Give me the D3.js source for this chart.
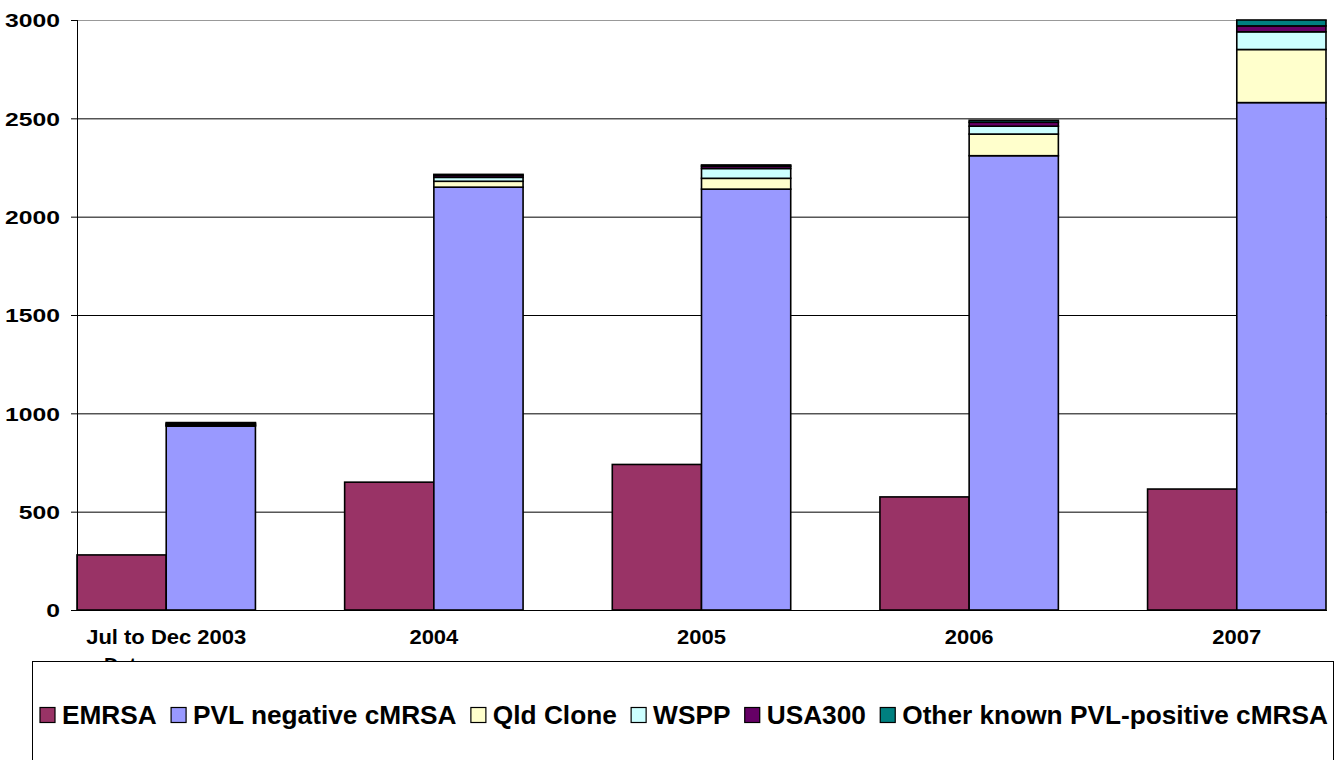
<!DOCTYPE html>
<html><head><meta charset="utf-8">
<script src="https://cdn.jsdelivr.net/npm/d3@7"></script>
<style>html,body{margin:0;padding:0;background:#fff;} svg{display:block;}</style>
</head><body>
<svg id="c" width="1337" height="760"></svg>
<script>
const categories = ["Jul to Dec 2003", "2004", "2005", "2006", "2007"];
const emrsa      = [280, 650, 740, 575, 615];
const pvlNeg     = [935, 2150, 2140, 2310, 2580];
const qldClone   = [4, 30, 55, 110, 270];
const wspp       = [4, 20, 50, 40, 90];
const usa300     = [6, 10, 12, 20, 30];
const otherPvl   = [4, 5, 6, 10, 30];
const yTicks     = [0, 500, 1000, 1500, 2000, 2500, 3000];
const seriesNames = ["EMRSA", "PVL negative cMRSA", "Qld Clone", "WSPP", "USA300", "Other known PVL-positive cMRSA"];
const seriesColors = ["#993366", "#9999FF", "#FFFFCC", "#CCFFFF", "#660066", "#008080"];

const svg = d3.select("#c");
const M = {left: 77, right: 1326, top: 20, bottom: 610};
const FONT = "'Liberation Sans', Arial, sans-serif";

const x = d3.scaleBand().domain(categories).range([M.left, M.right]).paddingInner(1/3).paddingOuter(0);
const sub = d3.scaleBand().domain([0, 1]).range([0, x.bandwidth()]);
const y = d3.scaleLinear().domain([0, 3000]).range([M.bottom, M.top]);

// gridlines
svg.append("g").selectAll("line").data(yTicks.filter(d => d > 0)).join("line")
  .attr("x1", M.left).attr("x2", M.right + 1)
  .attr("y1", d => y(d) + 0.5).attr("y2", d => y(d) + 0.5)
  .attr("stroke", d => d === 3000 ? "#999" : "#000").attr("stroke-width", 1);

// stacked data for second bar
const stackKeys = [1, 2, 3, 4, 5];
const stackArrays = [emrsa, pvlNeg, qldClone, wspp, usa300, otherPvl];
const rows = categories.map((c, i) => {
  const r = {cat: c};
  stackKeys.forEach(k => r[k] = stackArrays[k][i]);
  return r;
});
const stacked = d3.stack().keys(stackKeys)(rows);

const barG = svg.append("g");
barG.selectAll("rect.em").data(categories).join("rect")
  .attr("class", "em")
  .attr("x", (c) => x(c) + sub(0))
  .attr("width", sub.bandwidth())
  .attr("y", (c, i) => y(emrsa[i]))
  .attr("height", (c, i) => y(0) - y(emrsa[i]))
  .attr("fill", seriesColors[0]).attr("stroke", "#000").attr("stroke-width", 1.6);

stacked.forEach(layer => {
  barG.append("g").selectAll("rect").data(layer).join("rect")
    .attr("x", d => x(d.data.cat) + sub(1))
    .attr("width", sub.bandwidth())
    .attr("y", d => y(d[1]))
    .attr("height", d => y(d[0]) - y(d[1]))
    .attr("fill", seriesColors[layer.key]).attr("stroke", "#000").attr("stroke-width", 1.6);
});

// y axis
const YSX = 1.3, YPAD = 17;
const yAxis = d3.axisLeft(y).tickValues(yTicks).tickSize(6).tickFormat(d3.format("d"));
const ya = svg.append("g").attr("transform", `translate(${M.left},0)`).call(yAxis);
ya.select(".domain").attr("stroke", "#000").attr("d", `M0.5,${M.top}V${M.bottom}`);
ya.selectAll(".tick line").attr("stroke", "#000").attr("x1", 0.5).attr("x2", -6);
ya.selectAll("text").attr("font-family", FONT).attr("font-weight", "bold").attr("font-size", 19)
  .attr("fill", "#000").attr("x", -YPAD / YSX).attr("dy", "0.36em").attr("transform", `scale(${YSX},1)`);

// x axis
const XSX = 1.1;
const xa = svg.append("g").attr("transform", `translate(0,${M.bottom})`)
  .call(d3.axisBottom(x).tickSize(0));
xa.select(".domain").attr("stroke", "#000").attr("d", `M${M.left},0.5H${M.right + 1}`);
xa.selectAll("text").attr("font-family", FONT).attr("font-weight", "bold").attr("font-size", 20)
  .attr("fill", "#000").attr("y", 34).attr("dy", null).attr("transform", `scale(${XSX},1)`);

// axis title, mostly hidden behind the legend
svg.append("text").attr("x", 104).attr("y", 672).attr("font-family", FONT).attr("font-weight", "bold")
  .attr("font-size", 20).text("Date");

// legend
const lg = svg.append("g");
lg.append("rect").attr("x", 32.5).attr("y", 661.5).attr("width", 1301).attr("height", 120)
  .attr("fill", "#fff").attr("stroke", "#000").attr("stroke-width", 1);
const LFS = 25, LSX = 1.05, SW = 15, SG = 7, cy = 715;
const items = lg.selectAll("g.it").data(seriesNames).join("g").attr("class", "it");
items.append("rect").attr("width", SW).attr("height", SW).attr("y", cy - SW / 2)
  .attr("fill", (d, i) => seriesColors[i]).attr("stroke", "#000").attr("stroke-width", 1.2);
items.append("text").attr("x", (SW + SG) / LSX).attr("y", cy).attr("dy", "0.36em")
  .attr("transform", `scale(${LSX},1)`)
  .attr("font-family", FONT).attr("font-weight", "bold").attr("font-size", LFS).text(d => d);
const widths = [];
items.selectAll("text").each(function() { widths.push(this.getComputedTextLength() * LSX); });
const startX = 40, endX = 1328;
const total = widths.reduce((a, b) => a + b, 0) + seriesNames.length * (SW + SG);
const gap = (endX - startX - total) / (seriesNames.length - 1);
let cx = startX;
items.each(function(d, i) {
  d3.select(this).attr("transform", `translate(${cx},0)`);
  cx += SW + SG + widths[i] + gap;
});
</script>
</body></html>
